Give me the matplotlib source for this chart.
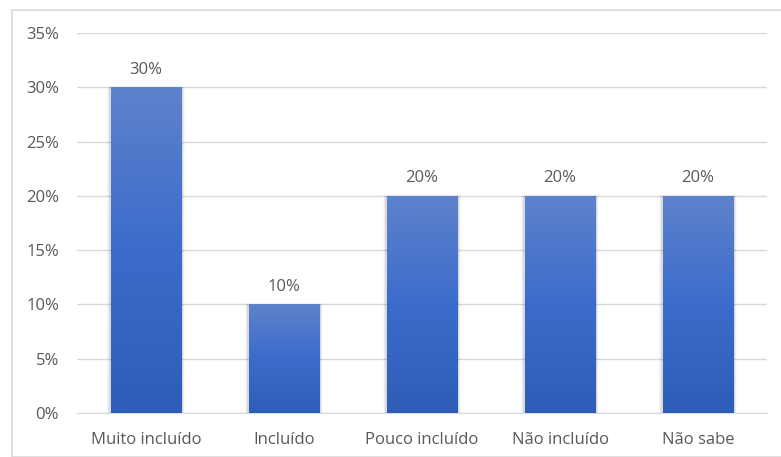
import numpy as np
import matplotlib
matplotlib.use('Agg')
import matplotlib.pyplot as plt
from matplotlib.colors import LinearSegmentedColormap
from matplotlib.patches import Rectangle

categories = ['Muito incluído', 'Incluído', 'Pouco incluído', 'Não incluído', 'Não sabe']
values = [30, 10, 20, 20, 20]
yticks = [0, 5, 10, 15, 20, 25, 30, 35]

plt.rcParams['font.family'] = ['Open Sans', 'DejaVu Sans']
txt = '#595959'

fig = plt.figure(figsize=(7.81, 4.57), dpi=100)
ax = fig.add_axes([77 / 781, 1 - 413 / 457, 690 / 781, 380 / 457])

# chart border
fig.patches.append(Rectangle((12 / 781, 0), 1, 1 - 10 / 457, transform=fig.transFigure,
                             fill=False, edgecolor='#d9d9d9', linewidth=1.2))

cmap = LinearSegmentedColormap.from_list('g', ['#2d5db6', '#3b6ccb', '#5f82cc'])
grad = np.linspace(0, 1, 256).reshape(-1, 1)
x = np.arange(len(categories))
w = 0.51
bars = ax.bar(x, values, width=w, color='none', zorder=3)
for b, v in zip(bars, values):
    x0 = b.get_x()
    # soft shadow on the sides
    for k, a in enumerate([0.08, 0.05, 0.025]):
        d = 0.01 * (k + 1)
        ax.add_patch(Rectangle((x0 - d, 0), w + 2 * d, v + 0.05 * k, color='#000000',
                               alpha=a, linewidth=0, zorder=2))
    im = ax.imshow(grad, cmap=cmap, origin='lower', aspect='auto',
                   extent=(x0, x0 + w, 0, v), zorder=3)
    im.set_clip_path(b)
    ax.text(b.get_x() + w / 2, v + 0.9, f'{v}%', ha='center', va='bottom',
            fontsize=12, color=txt)

ax.set_xlim(-0.5, len(categories) - 0.5)
ax.set_ylim(0, 35)
ax.set_yticks(yticks)
ax.set_yticklabels([f'{t}%' for t in yticks])
ax.set_xticks(x)
ax.set_xticklabels(categories)
ax.tick_params(length=0, labelsize=12, colors=txt)
ax.tick_params(axis='y', pad=13)
ax.tick_params(axis='x', pad=14)
ax.grid(axis='y', color='#d9d9d9', linewidth=1, zorder=0)
ax.set_axisbelow(True)
for s in ['top', 'right', 'left']:
    ax.spines[s].set_visible(False)
ax.spines['bottom'].set_color('#d9d9d9')

fig.savefig('out.png', dpi=100)
